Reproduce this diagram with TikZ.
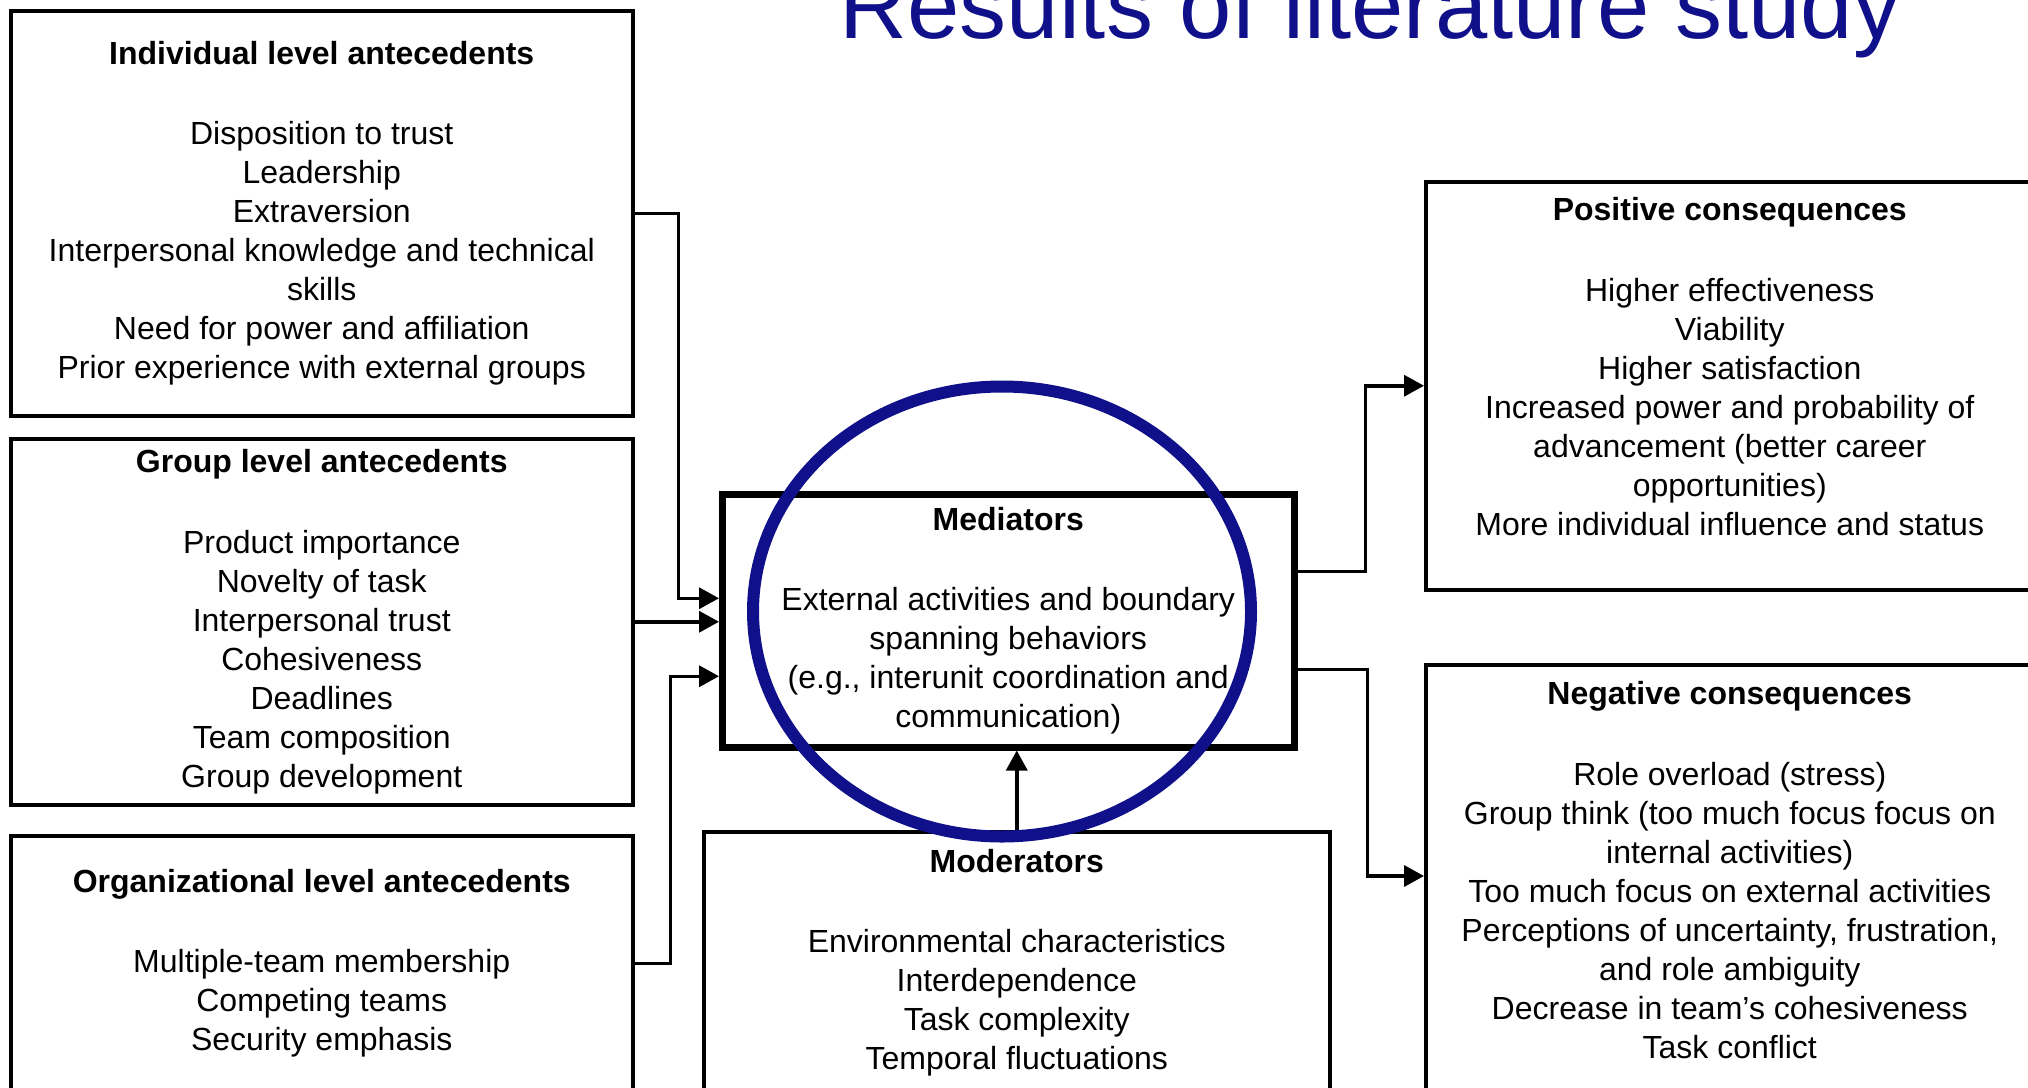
\documentclass[tikz,border=0pt]{standalone}
\usepackage{fontspec}
\setmainfont{Liberation Sans}
\usepackage{xcolor}
\usetikzlibrary{arrows.meta}
\definecolor{navy}{RGB}{16,16,138}
\newcommand{\headgap}{\\[41.5pt]}

\begin{document}
\begin{tikzpicture}[
  x=1pt, y=-1pt,
  font=\fontsize{32}{39}\selectfont,
  box/.style={draw, line width=3.5pt, align=center, anchor=north west, inner sep=0pt},
  medbox/.style={box, line width=6.5pt},
  ar/.style={line width=3.5pt, -{Triangle[length=20pt, width=21pt]}},
  ring/.style={draw=navy, line width=12pt}
]
\useasboundingbox (0,0) rectangle (2028,1087);

\node[font=\fontsize{94}{112}\selectfont, text=navy, anchor=base] (title) at (1370,38)
  {Results of literature study};

\node[box, minimum width=622pt, minimum height=405pt] (ind) at (9,9)
  {\textbf{Individual level antecedents}\headgap
   Disposition to trust\\ Leadership\\ Extraversion\\
   Interpersonal knowledge and technical\\ skills\\
   Need for power and affiliation\\ Prior experience with external groups};
\node[box, minimum width=622pt, minimum height=366pt] (grp) at (9,437)
  {\textbf{Group level antecedents}\headgap
   Product importance\\ Novelty of task\\ Interpersonal trust\\ Cohesiveness\\
   Deadlines\\ Team composition\\ Group development};
\node[box, minimum width=622pt, minimum height=255pt] (org) at (9,834)
  {\textbf{Organizational level antecedents}\headgap
   Multiple-team membership\\ Competing teams\\ Security emphasis};

\node[medbox, minimum width=572pt, minimum height=253pt] (med) at (719,491)
  {\textbf{Mediators}\headgap
   External activities and boundary\\ spanning behaviors\\
   (e.g., interunit coordination and\\ communication)};
\node[box, minimum width=626pt, minimum height=262pt] (mod) at (702,830)
  {\textbf{Moderators}\headgap
   Environmental characteristics\\ Interdependence\\ Task complexity\\
   Temporal fluctuations};

\node[box, minimum width=608pt, minimum height=408pt] (pos) at (1424,180)
  {\textbf{Positive consequences}\headgap
   Higher effectiveness\\ Viability\\ Higher satisfaction\\
   Increased power and probability of\\ advancement (better career\\
   opportunities)\\ More individual influence and status\\ \mbox{}};
\node[box, minimum width=608pt, minimum height=449pt] (neg) at (1424,663)
  {\textbf{Negative consequences}\headgap
   Role overload (stress)\\ Group think (too much focus focus on\\
   internal activities)\\ Too much focus on external activities\\
   Perceptions of uncertainty, frustration,\\ and role ambiguity\\
   Decrease in team's cohesiveness\\ Task conflict\\ \mbox{}};

\draw[ar] (ind.east) -- ++(44,0) |- ([yshift=22.5pt]med.west);
\draw[ar] (grp.east) -- (grp.east -| med.west);
\draw[ar] (org.east) -- ++(36,0) |- ([yshift=-55.5pt]med.west);
\draw[ar] (mod.north) -- (mod.north |- med.south);
\draw[ar] ([yshift=49.5pt]med.east) -- ++(68,0) |- (pos.west);
\draw[ar] ([yshift=-48.5pt]med.east) -- ++(70,0) |- ([yshift=-213pt]neg.north west);

\draw[ring] (1002,611.5) ellipse [x radius=249, y radius=225];
\end{tikzpicture}
\end{document}
